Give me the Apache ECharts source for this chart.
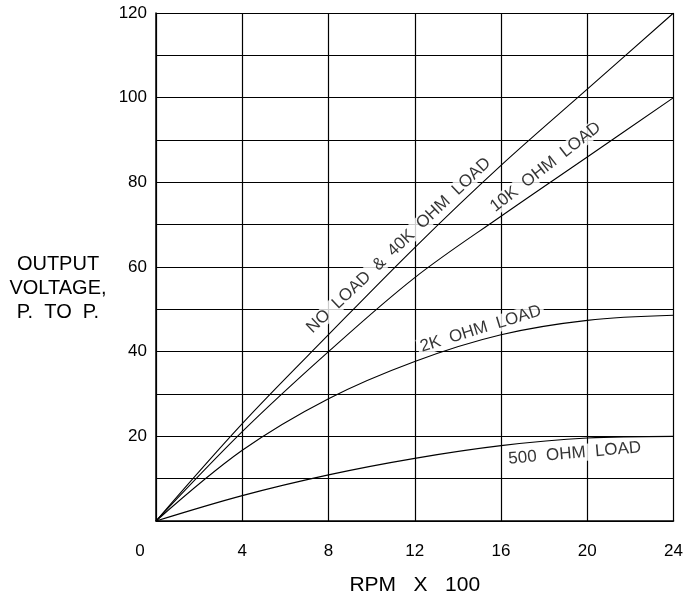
<!DOCTYPE html>
<html>
<head>
<meta charset="utf-8">
<script src="https://cdn.jsdelivr.net/npm/echarts@6/dist/echarts.min.js"></script>
<style>
html,body{margin:0;padding:0;background:#fff;}
#chart{width:686px;height:601px;}
</style>
</head>
<body>
<div id="chart"></div>
<script>
// RPM x 100
const rpm = [0, 4, 8, 12, 16, 20, 24];
// Output voltage, P. to P.
const noLoad40k = [0, 23, 44, 64.6, 84, 102, 120];
const load10k   = [0, 21.1, 40, 57.5, 72, 86, 100];
const load2k    = [0, 16.7, 28.9, 37.7, 44, 47.4, 48.6];
const load500   = [0, 6.0, 10.9, 14.8, 17.8, 19.6, 20.0];

const seriesNames = ['NO  LOAD  &  40K  OHM  LOAD', '10K  OHM  LOAD', '2K  OHM  LOAD', '500  OHM  LOAD'];
// label anchor (x in RPM x 100, y in volts)
const labelX = [11.26, 18.07, 15.06, 19.42];
const labelY = [65.1, 83.6, 45.4, 16.0];
const labelAngle = [43.5, 38, 17, 5];

const xTicks = [0, 4, 8, 12, 16, 20, 24];
const yTicks = [20, 40, 60, 80, 100, 120];
const yTitle = 'OUTPUT\nVOLTAGE,\nP.  TO  P.';
const xTitle = 'RPM   X   100';

const FONT = "'Liberation Sans', Arial, sans-serif";
const chart = echarts.init(document.getElementById('chart'));

function pairs(ys) { return rpm.map((x, i) => [x, ys[i]]); }
const curves = [noLoad40k, load10k, load2k, load500];

const series = curves.map((ys, i) => ({
  type: 'line',
  name: seriesNames[i],
  data: pairs(ys),
  smooth: 0.35,
  symbol: 'none',
  lineStyle: { color: '#000', width: 1.1 },
  z: 3
}));

series.push({
  type: 'scatter',
  symbolSize: 0,
  z: 5,
  silent: true,
  data: seriesNames.map((t, i) => ({
    value: [labelX[i], labelY[i]],
    name: t,
    label: { rotate: labelAngle[i] }
  })),
  label: {
    show: true,
    position: 'inside',
    formatter: p => p.name,
    fontFamily: FONT,
    fontSize: 17,
    color: '#000',
    backgroundColor: '#fff',
    padding: [0, 3]
  }
});

chart.setOption({
  backgroundColor: '#fff',
  animation: false,
  grid: { left: 156, right: 12, top: 13, bottom: 70 },
  graphic: [{
    type: 'text',
    x: 58, y: 252,
    style: {
      text: yTitle,
      fontFamily: FONT, fontSize: 20, lineHeight: 24,
      fill: '#000', align: 'center', verticalAlign: 'top'
    }
  }],
  xAxis: {
    type: 'value',
    min: 0, max: 24, interval: 4,
    name: xTitle,
    nameLocation: 'middle',
    nameGap: 54,
    nameTextStyle: { fontFamily: FONT, fontSize: 21, color: '#000' },
    axisLine: { show: true, lineStyle: { color: '#000', width: 1.5 } },
    axisTick: { show: false },
    axisLabel: {
      margin: 22,
      fontFamily: FONT, fontSize: 17, color: '#000',
      formatter: v => (xTicks.indexOf(v) < 0 ? '' : (v === 0 ? '{z|0}' : String(v))),
      rich: { z: { fontFamily: FONT, fontSize: 17, color: '#000', padding: [0, 32, 0, 0] } }
    },
    splitLine: { show: true, lineStyle: { color: '#000', width: 1.2 } }
  },
  yAxis: {
    type: 'value',
    min: 0, max: 120, interval: 10,
    axisLine: { show: true, lineStyle: { color: '#000', width: 1.5 } },
    axisTick: { show: false },
    axisLabel: {
      margin: 9,
      fontFamily: FONT, fontSize: 17, color: '#000',
      verticalAlign: 'middle',
      padding: [4, 0, 0, 0],
      formatter: v => (yTicks.indexOf(v) < 0 ? '' : String(v))
    },
    splitLine: { show: true, lineStyle: { color: '#000', width: 1.2 } }
  },
  series: series
});
</script>
</body>
</html>
